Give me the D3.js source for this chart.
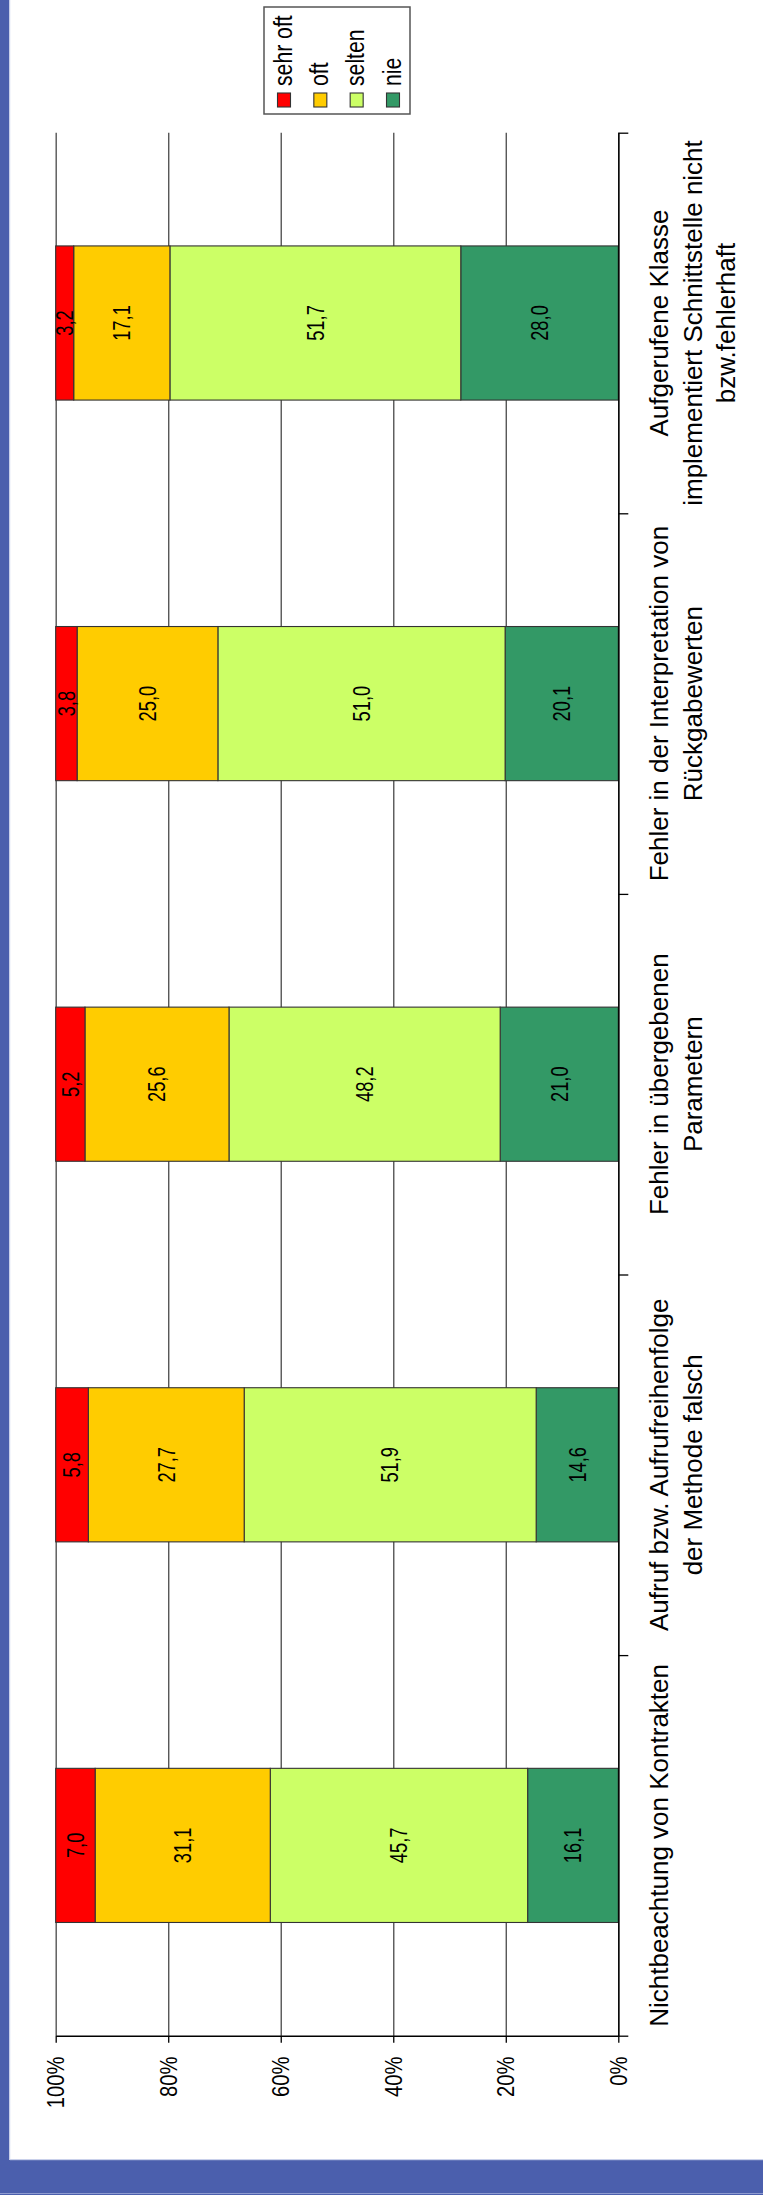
<!DOCTYPE html>
<html>
<head>
<meta charset="utf-8">
<script src="https://cdn.jsdelivr.net/npm/d3@7"></script>
<style>
  html, body { margin: 0; padding: 0; background: #fff; }
  svg { display: block; }
  text { font-family: "Liberation Sans", Arial, sans-serif; fill: #000; }
</style>
</head>
<body>
<svg id="chart" width="763" height="2195"></svg>
<script>
// Categories, from the first (bottom) to the last (top)
const categories = [
  "Nichtbeachtung von Kontrakten",
  "Aufruf bzw. Aufrufreihenfolge der Methode falsch",
  "Fehler in übergebenen Parametern",
  "Fehler in der Interpretation von Rückgabewerten",
  "Aufgerufene Klasse implementiert Schnittstelle nicht bzw.fehlerhaft"
];
// Wrapped lines of each category label
const categoryLines = [
  ["Nichtbeachtung von Kontrakten"],
  ["Aufruf bzw. Aufrufreihenfolge", "der Methode falsch"],
  ["Fehler in übergebenen", "Parametern"],
  ["Fehler in der Interpretation von", "Rückgabewerten"],
  ["Aufgerufene Klasse", "implementiert Schnittstelle nicht", "bzw.fehlerhaft"]
];

// Answer shares in percent
const sehrOft = [7.0, 5.8, 5.2, 3.8, 3.2];
const oft     = [31.1, 27.7, 25.6, 25.0, 17.1];
const selten  = [45.7, 51.9, 48.2, 51.0, 51.7];
const nie     = [16.1, 14.6, 21.0, 20.1, 28.0];

const seriesNames = ["sehr oft", "oft", "selten", "nie"];
const seriesColors = ["#FF0000", "#FFCC00", "#CCFF66", "#339966"];
const valueTicks = [0, 0.2, 0.4, 0.6, 0.8, 1];

const rows = categories.map((c, i) => ({
  category: c,
  "sehr oft": sehrOft[i],
  "oft": oft[i],
  "selten": selten[i],
  "nie": nie[i]
}));
const colorOf = d3.scaleOrdinal(seriesNames, seriesColors);

const svg = d3.select("#chart");

// Page frame
svg.append("rect").attr("x", 0).attr("y", 0).attr("width", 763).attr("height", 2195).attr("fill", "#fff");
svg.append("rect").attr("x", 0).attr("y", 0).attr("width", 10).attr("height", 2195).attr("fill", "#4B5FAD");
svg.append("rect").attr("x", 9).attr("y", 0).attr("width", 1.2).attr("height", 2160).attr("fill", "#C9D0EA");
svg.append("rect").attr("x", 0).attr("y", 2160).attr("width", 763).attr("height", 35).attr("fill", "#4B5FAD");
svg.append("rect").attr("x", 10).attr("y", 2159).attr("width", 753).attr("height", 1.2).attr("fill", "#C9D0EA");
svg.append("rect").attr("x", 0).attr("y", 2193).attr("width", 763).attr("height", 1).attr("fill", "#8E9BD0");

// The chart is laid out turned a quarter turn: values run right-to-left, categories bottom-to-top
const xV = d3.scaleLinear().domain([0, 1]).range([618.3, 55.7]);
const yTop = 132.7, yBottom = 2035.7;
const yBand = d3.scaleBand().domain(categories).range([yBottom, yTop])
  .paddingInner(0.595).paddingOuter(0.2975);
const yEdges = d3.scaleLinear().domain([0, categories.length]).range([yBottom, yTop]);

// rotated text helper: reads bottom to top, glyphs stretched across the line
function turn(x, y, s) {
  return `translate(${x},${y}) rotate(-90) scale(1,${s})`;
}

// Gridlines
svg.append("g")
  .attr("transform", `translate(0,${yBottom})`)
  .call(d3.axisBottom(xV).tickValues(valueTicks).tickSize(-(yBottom - yTop)).tickFormat(""))
  .call(g => g.select(".domain").remove())
  .call(g => g.selectAll("line").attr("stroke", "#555").attr("stroke-width", 1.4));

// Stacked 100% bars
const stack = d3.stack().keys(["nie", "selten", "oft", "sehr oft"]).offset(d3.stackOffsetExpand);
const series = stack(rows);
const fmt = v => d3.format(".1f")(v).replace(".", ",");

const layers = svg.append("g").selectAll("g").data(series).join("g")
  .attr("fill", d => colorOf(d.key));
layers.selectAll("rect").data(d => d.map(p => Object.assign(p, { key: d.key }))).join("rect")
  .attr("x", d => xV(d[1]))
  .attr("y", d => yBand(d.data.category))
  .attr("width", d => xV(d[0]) - xV(d[1]))
  .attr("height", yBand.bandwidth())
  .attr("stroke", "#333")
  .attr("stroke-width", 1.1);

// Value labels inside the segments
const valFont = 18.3, valStretch = 1.27;
svg.append("g").selectAll("g").data(series).join("g")
  .selectAll("text").data(d => d).join("text")
  .attr("text-anchor", "middle")
  .attr("font-size", valFont)
  .attr("transform", d => {
    const cx = (xV(d[0]) + xV(d[1])) / 2 + 0.358 * valFont * valStretch;
    const cy = yBand(d.data.category) + yBand.bandwidth() / 2;
    return turn(cx, cy, valStretch);
  })
  .text(d => fmt(d.data[d.key]));

// Value axis (percent)
const tickFont = 20.2, tickStretch = 1.22;
svg.append("g")
  .attr("transform", `translate(0,${yBottom})`)
  .call(d3.axisBottom(xV).tickValues(valueTicks).tickSize(7).tickSizeOuter(0).tickFormat(d3.format(".0%")))
  .call(g => g.select(".domain").attr("stroke", "#000").attr("stroke-width", 1.6))
  .call(g => g.selectAll(".tick line").attr("stroke", "#000").attr("stroke-width", 1.3))
  .call(g => g.selectAll(".tick text")
    .attr("x", null).attr("y", null).attr("dy", null)
    .attr("fill", "#000")
    .attr("font-size", tickFont)
    .attr("font-family", "Liberation Sans, Arial, sans-serif")
    .attr("text-anchor", "end")
    .attr("transform", turn(0.358 * tickFont * tickStretch - 1, 20.8, tickStretch)));

// Category axis with ticks between categories
svg.append("g")
  .attr("transform", `translate(${xV(0)},0)`)
  .call(d3.axisRight(yEdges).tickValues(d3.range(categories.length + 1)).tickSize(10).tickSizeOuter(0).tickFormat(""))
  .call(g => g.select(".domain").attr("stroke", "#000").attr("stroke-width", 1.4))
  .call(g => g.selectAll(".tick line").attr("stroke", "#000").attr("stroke-width", 1.3));

// Category labels
const catFont = 26, lineGap = 33.6, firstBaseline = 668;
const catGroups = svg.append("g").selectAll("g").data(categories).join("g");
catGroups.each(function (c, i) {
  const cy = yBand(c) + yBand.bandwidth() / 2;
  d3.select(this).selectAll("text").data(categoryLines[i]).join("text")
    .attr("text-anchor", "middle")
    .attr("font-size", catFont)
    .attr("transform", (t, j) => turn(firstBaseline + j * lineGap, cy, 1))
    .text(t => t);
});

// Legend
const legend = svg.append("g");
legend.append("rect").attr("x", 264).attr("y", 7).attr("width", 146).attr("height", 107)
  .attr("fill", "#fff").attr("stroke", "#555").attr("stroke-width", 1.5);
const legX = d3.scalePoint().domain(seriesNames).range([284, 393]);
const legFont = 21.2, legStretch = 1.2;
legend.selectAll("rect.sw").data(seriesNames).join("rect")
  .attr("class", "sw")
  .attr("x", d => legX(d) - 6.5).attr("y", 93).attr("width", 13).attr("height", 14)
  .attr("fill", d => colorOf(d)).attr("stroke", "#333").attr("stroke-width", 1.1);
legend.selectAll("text").data(seriesNames).join("text")
  .attr("font-size", legFont)
  .attr("text-anchor", "start")
  .attr("transform", d => turn(legX(d) + 7.5, 86, legStretch))
  .text(d => d);
</script>
</body>
</html>
